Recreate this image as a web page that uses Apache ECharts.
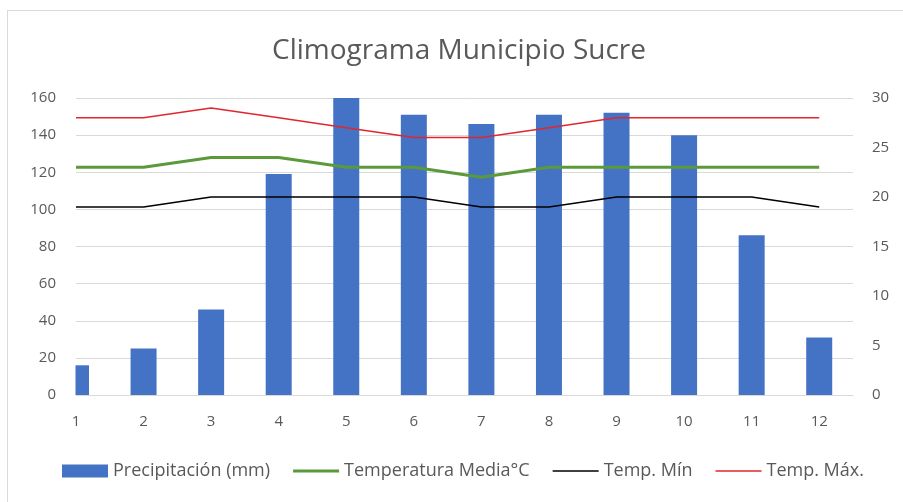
<!DOCTYPE html>
<html>
<head>
<meta charset="utf-8">
<script src="https://cdn.jsdelivr.net/npm/echarts@6/dist/echarts.min.js"></script>
<style>
  html, body { margin: 0; padding: 0; background: #fff; }
  #chart { width: 903px; height: 502px; }
</style>
</head>
<body>
<div id="chart"></div>
<script>
const months = [1, 2, 3, 4, 5, 6, 7, 8, 9, 10, 11, 12];
const precipitacion = [16, 25, 46, 119, 160, 151, 146, 151, 152, 140, 86, 31];
const tempMedia = [23, 23, 24, 24, 23, 23, 22, 23, 23, 23, 23, 23];
const tempMin = [19, 19, 20, 20, 20, 20, 19, 19, 20, 20, 20, 19];
const tempMax = [28, 28, 29, 28, 27, 26, 26, 27, 28, 28, 28, 28];
const leftTicks = { min: 0, max: 160, interval: 20 };
const rightTicks = { min: 0, max: 30, interval: 5 };

const FONT = '"Open Sans", sans-serif';
const TXT = '#595959';
const GREEN = '#5B9A3A', RED = '#E0262E', BLUE = '#4472C4';
const pair = arr => months.map((m, i) => [m, arr[i]]);

const chart = echarts.init(document.getElementById('chart'), null, { renderer: 'canvas' });
chart.setOption({
  animation: false,
  backgroundColor: '#ffffff',
  textStyle: { fontFamily: FONT },
  title: {
    text: 'Climograma Municipio Sucre',
    left: 459,
    textAlign: 'center',
    top: 37,
    padding: 0,
    textStyle: { fontFamily: FONT, fontSize: 28, fontWeight: 'normal', color: TXT }
  },
  legend: {
    top: 462,
    left: 62,
    padding: 0,
    itemWidth: 46,
    itemHeight: 13,
    itemGap: 23,
    textStyle: { fontFamily: FONT, fontSize: 18, color: TXT },
    data: [
      { name: 'Precipitación (mm)', icon: 'rect' },
      { name: 'Temperatura Media°C', icon: 'path://M0,0L100,0L100,6.5L0,6.5Z' },
      { name: 'Temp. Mín', icon: 'path://M0,0L100,0L100,3.5L0,3.5Z' },
      { name: 'Temp. Máx.', icon: 'path://M0,0L100,0L100,3.5L0,3.5Z' }
    ]
  },
  grid: { left: 76, right: 50, top: 98, bottom: 107, containLabel: false },
  xAxis: {
    type: 'value',
    min: 1, max: 12.5, interval: 1,
    axisLine: { show: true, lineStyle: { color: '#d9d9d9', width: 1 } },
    axisTick: { show: false },
    splitLine: { show: false },
    axisLabel: {
      margin: 19, fontSize: 15, color: TXT, fontFamily: FONT,
      showMaxLabel: false,
      formatter: v => (Number.isInteger(v) ? String(v) : '')
    }
  },
  yAxis: [
    {
      type: 'value', min: leftTicks.min, max: leftTicks.max, interval: leftTicks.interval,
      axisLine: { show: false }, axisTick: { show: false },
      splitLine: { show: true, lineStyle: { color: '#d9d9d9', width: 1 } },
      axisLabel: { margin: 20, fontSize: 15, color: TXT, fontFamily: FONT }
    },
    {
      type: 'value', min: rightTicks.min, max: rightTicks.max, interval: rightTicks.interval,
      axisLine: { show: false }, axisTick: { show: false },
      splitLine: { show: false },
      axisLabel: { margin: 19, fontSize: 15, color: TXT, fontFamily: FONT }
    }
  ],
  series: [
    {
      name: 'Precipitación (mm)', type: 'bar', xAxisIndex: 0, yAxisIndex: 0,
      barWidth: 26, clip: true, z: 1,
      itemStyle: { color: BLUE },
      data: pair(precipitacion)
    },
    {
      name: 'Temperatura Media°C', type: 'line', yAxisIndex: 1,
      symbol: 'none', showSymbol: false, z: 3,
      lineStyle: { color: GREEN, width: 3 }, itemStyle: { color: GREEN },
      data: pair(tempMedia)
    },
    {
      name: 'Temp. Mín', type: 'line', yAxisIndex: 1,
      symbol: 'none', showSymbol: false, z: 3,
      lineStyle: { color: '#000000', width: 1.5 }, itemStyle: { color: '#000000' },
      data: pair(tempMin)
    },
    {
      name: 'Temp. Máx.', type: 'line', yAxisIndex: 1,
      symbol: 'none', showSymbol: false, z: 3,
      lineStyle: { color: RED, width: 1.5 }, itemStyle: { color: RED },
      data: pair(tempMax)
    }
  ],
  graphic: [
    { type: 'rect', silent: true, z: 2, shape: { x: 58, y: 96, width: 17.5, height: 300 }, style: { fill: '#ffffff' } },
    { type: 'line', silent: true, z: 2, shape: { x1: 7, y1: 10.5, x2: 903, y2: 10.5 }, style: { stroke: '#d9d9d9', lineWidth: 1 } },
    { type: 'line', silent: true, z: 2, shape: { x1: 7.5, y1: 10, x2: 7.5, y2: 502 }, style: { stroke: '#d9d9d9', lineWidth: 1 } }
  ]
});
</script>
</body>
</html>
